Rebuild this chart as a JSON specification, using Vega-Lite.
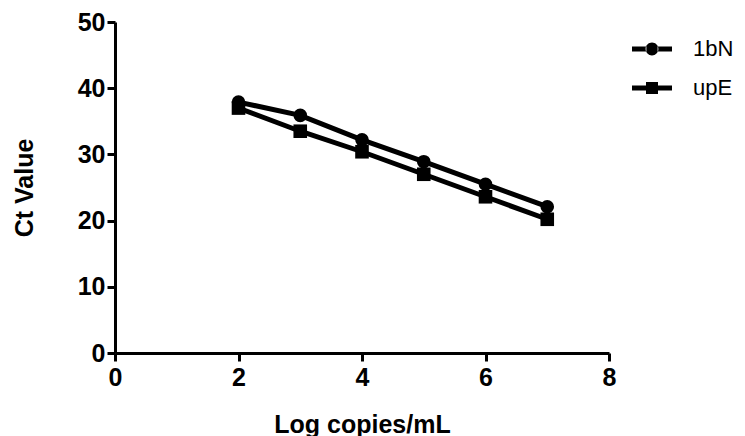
{
  "$schema": "https://vega.github.io/schema/vega-lite/v6.json",
  "width": 494,
  "height": 331,
  "autosize": {"type": "none"},
  "padding": {"left": 115, "top": 22, "right": 136, "bottom": 83},
  "background": "white",
  "config": {
    "view": {"stroke": null},
    "font": "Liberation Sans",
    "axis": {
      "domainColor": "black",
      "domainWidth": 3,
      "tickColor": "black",
      "tickWidth": 3,
      "tickSize": 8,
      "grid": false,
      "labelFont": "Liberation Sans",
      "labelFontSize": 25,
      "labelFontWeight": "bold",
      "labelColor": "black",
      "titleFont": "Liberation Sans",
      "titleFontSize": 25,
      "titleFontWeight": "bold",
      "titleColor": "black"
    }
  },
  "data": {
    "values": [
      {"series": "1bN", "logc": 2, "ct": 37.9},
      {"series": "1bN", "logc": 3, "ct": 35.9},
      {"series": "1bN", "logc": 4, "ct": 32.2},
      {"series": "1bN", "logc": 5, "ct": 28.9},
      {"series": "1bN", "logc": 6, "ct": 25.5},
      {"series": "1bN", "logc": 7, "ct": 22.1},
      {"series": "upE", "logc": 2, "ct": 37.0},
      {"series": "upE", "logc": 3, "ct": 33.5},
      {"series": "upE", "logc": 4, "ct": 30.4},
      {"series": "upE", "logc": 5, "ct": 27.0},
      {"series": "upE", "logc": 6, "ct": 23.6},
      {"series": "upE", "logc": 7, "ct": 20.2}
    ]
  },
  "encoding": {
    "x": {
      "field": "logc",
      "type": "quantitative",
      "scale": {"domain": [0, 8], "nice": false, "zero": false},
      "axis": {"values": [0, 2, 4, 6, 8], "title": "Log copies/mL", "labelPadding": 4, "titlePadding": 22, "labelFlush": false}
    },
    "y": {
      "field": "ct",
      "type": "quantitative",
      "scale": {"domain": [0, 50], "nice": false},
      "axis": {"values": [0, 10, 20, 30, 40, 50], "title": "Ct Value", "labelPadding": 2, "titlePadding": 40, "labelFlush": false}
    }
  },
  "layer": [
    {
      "mark": {"type": "line", "strokeWidth": 5, "color": "black"},
      "encoding": {"detail": {"field": "series"}}
    },
    {
      "mark": {"type": "point", "filled": true, "color": "black", "opacity": 1, "size": 185},
      "encoding": {
        "shape": {
          "field": "series",
          "type": "nominal",
          "scale": {"domain": ["1bN", "upE"], "range": ["circle", "square"]},
          "legend": null
        }
      }
    },
    {
      "transform": [{"filter": "false"}],
      "mark": {"type": "point", "filled": true, "color": "black", "opacity": 1},
      "encoding": {
        "shape": {
          "field": "series",
          "type": "nominal",
          "scale": {
            "domain": ["1bN", "upE"],
            "range": [
              "M-1,-0.12H-0.28V0.12H-1Z M0.28,-0.12H1V0.12H0.28Z M-0.32,0A0.32,0.32,0,1,0,0.32,0A0.32,0.32,0,1,0,-0.32,0Z",
              "M-1,-0.12H-0.3V0.12H-1Z M0.3,-0.12H1V0.12H0.3Z M-0.3,-0.3H0.3V0.3H-0.3Z"
            ]
          },
          "legend": {
            "title": null,
            "orient": "none",
            "legendX": 516,
            "legendY": 6,
            "padding": 0,
            "rowPadding": 7,
            "symbolSize": 1600,
            "symbolFillColor": "black",
            "symbolOpacity": 1,
            "labelFont": "Liberation Sans",
            "labelFontSize": 22,
            "labelColor": "black",
            "labelOffset": 20
          }
        }
      }
    }
  ],
  "resolve": {"scale": {"shape": "independent"}}
}
